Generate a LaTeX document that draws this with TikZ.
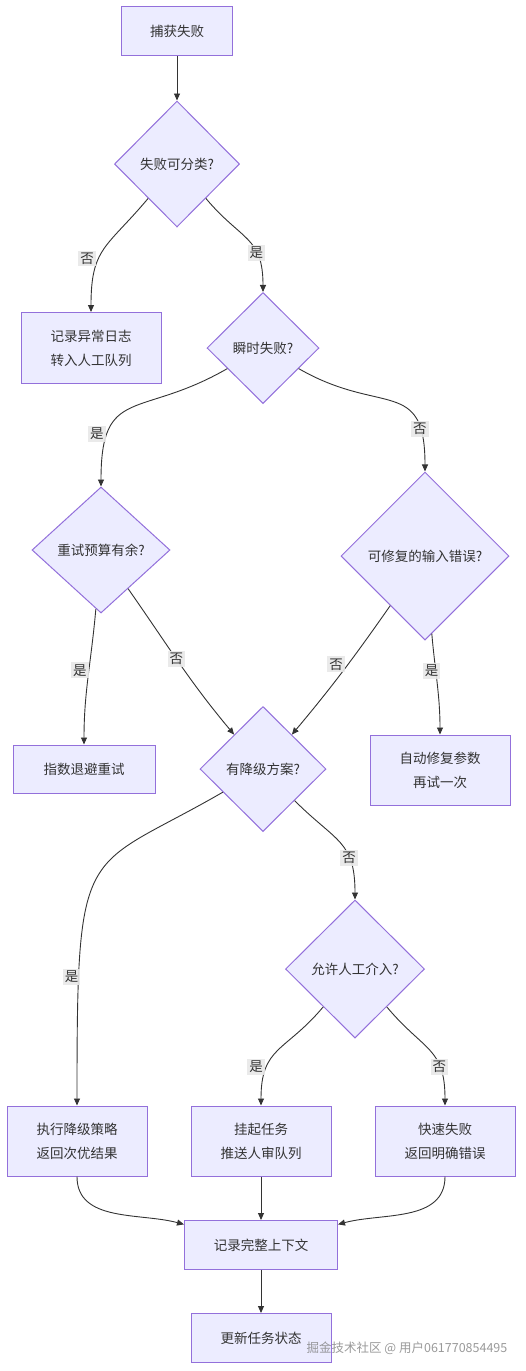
\documentclass[tikz,border=0pt]{standalone}
\usepackage{fontspec}
\newfontfamily\cjk{Noto Sans CJK SC}
\usepackage{tikz}
\usetikzlibrary{shapes.geometric}
\usetikzlibrary{arrows.meta}
\definecolor{nodefill}{HTML}{ECECFF}
\definecolor{nodeline}{HTML}{9370DB}
\definecolor{edgeline}{HTML}{333333}
\definecolor{lblfill}{HTML}{E8E8E8}
\tikzset{ proc/.style = {rectangle, draw=nodeline, fill=nodefill, line width=1pt, align=center, text=edgeline, font=\cjk\fontsize{13.5}{24}\selectfont} }
\tikzset{ cond/.style = {diamond, draw=nodeline, fill=nodefill, line width=1pt, inner sep=0pt, align=center, text=edgeline, font=\cjk\fontsize{13.5}{24}\selectfont} }
\tikzset{ flow/.style = {draw=edgeline, line width=0.9pt, -{Triangle[length=7pt,width=6pt]}} }
\tikzset{ lbl/.style = {fill=lblfill, fill opacity=0.9, text opacity=1, inner sep=2pt, text=edgeline, font=\cjk\fontsize{13.5}{15}\selectfont} }

\begin{document}
\begin{tikzpicture}[x=1pt,y=1pt]
\useasboundingbox (0,0) rectangle (525,-1371);
\node[proc, minimum width=111pt, minimum height=49pt] (n1) at (177,-31) {捕获失败};
\node[cond, minimum width=125pt, minimum height=126pt] (d1) at (177,-164) {失败可分类?};
\node[proc, minimum width=140pt, minimum height=71pt] (b1) at (91,-348) {记录异常日志\\转入人工队列};
\node[cond, minimum width=112pt, minimum height=111pt] (d2) at (263,-348) {瞬时失败?};
\node[cond, minimum width=138pt, minimum height=126pt] (d3) at (101,-550) {重试预算有余?};
\node[cond, minimum width=168pt, minimum height=168pt] (d4) at (425,-556) {可修复的输入错误?};
\node[proc, minimum width=142pt, minimum height=48pt] (b2) at (84,-769) {指数退避重试};
\node[cond, minimum width=126pt, minimum height=125pt] (d5) at (263,-769) {有降级方案?};
\node[proc, minimum width=140pt, minimum height=70pt] (b3) at (440,-770) {自动修复参数\\再试一次};
\node[cond, minimum width=139pt, minimum height=138pt] (d6) at (355,-969) {允许人工介入?};
\node[proc, minimum width=140pt, minimum height=70pt] (e1) at (77,-1141) {执行降级策略\\返回次优结果};
\node[proc, minimum width=140pt, minimum height=70pt] (e2) at (261,-1141) {挂起任务\\推送人审队列};
\node[proc, minimum width=140pt, minimum height=70pt] (e3) at (445,-1141) {快速失败\\返回明确错误};
\node[proc, minimum width=153pt, minimum height=49pt] (f1) at (261,-1245) {记录完整上下文};
\node[proc, minimum width=140pt, minimum height=49pt] (f2) at (261,-1338) {更新任务状态};
\node[text=gray, opacity=0.8, font=\cjk\fontsize{12.5}{14}\selectfont] (wm) at (407,-1348) {掘金技术社区 @ 用户061770854495};
\draw[flow] (n1) -- (d1);
\draw[flow] (d1) to[out=-130,in=90,looseness=1.3] node[lbl,pos=0.6,xshift=-12pt] {否} (b1);
\draw[flow] (d1) to[out=-50,in=90,looseness=1.3] node[lbl,pos=0.67] {是} (d2);
\draw[flow] (d2) to[out=-150,in=90,looseness=1.5] node[lbl,pos=0.76,xshift=-11pt] {是} (d3);
\draw[flow] (d2) to[out=-30,in=90,looseness=1.5] node[lbl,pos=0.8] {否} (d4);
\draw[flow] (d3) to[out=-95,in=90] node[lbl,pos=0.45,xshift=-9pt] {是} (b2);
\draw[flow] (d3) to[out=-55,in=130] node[lbl,pos=0.47] {否} (d5);
\draw[flow] (d4) to[out=-125,in=50] node[lbl,pos=0.44,xshift=-12pt] {否} (d5);
\draw[flow] (d4) to[out=-85,in=90] node[lbl,pos=0.36,xshift=-4pt] {是} (b3);
\draw[flow] (d5) to[out=-150,in=90,out looseness=1.2,in looseness=2] node[lbl,pos=0.8,xshift=-7pt] {是} (e1);
\draw[flow] (d5) to[out=-45,in=90,looseness=1.3] node[lbl,pos=0.68] {否} (d6);
\draw[flow] (d6) to[out=-130,in=90,looseness=1.3] node[lbl,pos=0.7,xshift=-11pt] {是} (e2);
\draw[flow] (d6) to[out=-50,in=90,looseness=1.3] node[lbl,pos=0.7] {否} (e3);
\draw[flow] (e1) to[out=-90,in=165] (f1);
\draw[flow] (e2) -- (f1);
\draw[flow] (e3) to[out=-90,in=15] (f1);
\draw[flow] (f1) -- (f2);
\end{tikzpicture}
\end{document}
